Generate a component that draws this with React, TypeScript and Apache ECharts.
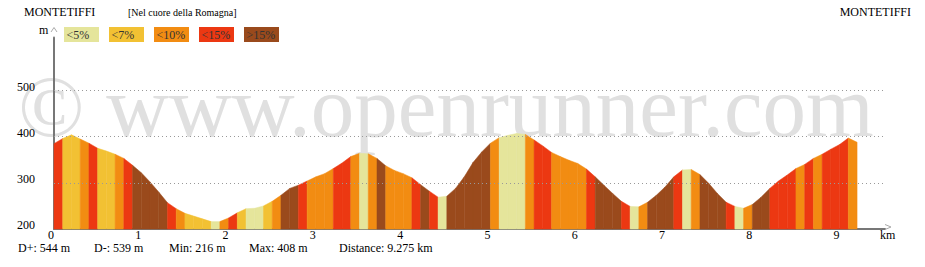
import React, { useEffect, useRef } from 'react';
import * as echarts from 'echarts';

// ---- data ----
const kmStep = 0.1;
const elevations = [
  385, 396, 404, 395, 386, 375, 369, 362, 353, 338,
  322, 302, 280, 257, 244, 234, 228, 222, 216, 216,
  224, 235, 244, 245, 250, 260, 273, 288, 295, 304,
  313, 320, 331, 343, 357, 364, 363, 353, 337, 327,
  320, 311, 296, 282, 269, 271, 288, 313, 344, 367,
  386, 398, 403, 407, 405, 393, 380, 366, 357, 349,
  342, 330, 313, 295, 277, 260, 249, 248, 258, 273,
  291, 313, 328, 329, 318, 299, 277, 258, 249, 245,
  253, 269, 288, 304, 317, 331, 340, 353, 362, 373,
  383, 397, 388,
];
// slope class of each 0.1 km segment: 0 <5%, 1 <7%, 2 <10%, 3 <15%, 4 >15%
const slopeClasses = [
  3, 1, 1, 2, 3, 1, 1, 2, 3, 4,
  4, 4, 4, 3, 2, 1, 1, 1, 0, 2,
  3, 1, 0, 0, 1, 2, 4, 4, 3, 2,
  2, 2, 3, 3, 2, 0, 2, 4, 2, 2,
  2, 3, 4, 3, 0, 4, 4, 4, 4, 4,
  2, 0, 0, 0, 2, 3, 3, 2, 2, 2,
  2, 3, 4, 4, 4, 3, 0, 2, 4, 4,
  4, 3, 0, 2, 4, 4, 4, 3, 0, 2,
  4, 4, 3, 3, 3, 2, 3, 2, 3, 3,
  3, 2,
];
const classLabels = ['<5%', '<7%', '<10%', '<15%', '>15%'];
const classColors = ['#E5E59B', '#F2C133', '#F28C12', '#EC3812', '#9A4A1C'];
const yTickValues = [200, 300, 400, 500];
const gridLineValues = [300, 400, 500];
const xTickLabels = ['0', '1', '2', '3', '4', '5', '6', '7', '8', '9'];
const startName = 'MONTETIFFI';
const endName = 'MONTETIFFI';
const subtitle = '[Nel cuore della Romagna]';
const stats = ['D+: 544 m', 'D-: 539 m', 'Min: 216 m', 'Max: 408 m', 'Distance: 9.275 km'];
const statsX = [18, 94, 169, 249, 339];
const watermark = '\u00A9 www.openrunner.com';

const FONT = '"Liberation Serif", "Times New Roman", serif';

export default function App() {
  const ref = useRef<HTMLDivElement>(null);

  useEffect(() => {
    document.body.style.margin = '0';
    if (!ref.current) return;
    const chart = echarts.init(ref.current, undefined, { renderer: 'svg' });

    const segments = slopeClasses.map((c, i) => [
      i * kmStep,
      (i + 1) * kmStep,
      elevations[i],
      elevations[i + 1],
      c,
    ]);

    const graphics: any[] = [
      {
        type: 'text',
        z: 0,
        x: 446,
        y: 106,
        style: {
          text: watermark,
          font: `87px ${FONT}`,
          fill: '#e0e0e0',
          align: 'center',
          verticalAlign: 'middle',
        },
      },
      {
        type: 'text', z: 10, x: 24, y: 17.5,
        style: { text: startName, font: `12px ${FONT}`, fill: '#000', align: 'left', verticalAlign: 'bottom' },
      },
      {
        type: 'text', z: 10, x: 128, y: 17.5,
        style: { text: subtitle, font: `10px ${FONT}`, fill: '#000', align: 'left', verticalAlign: 'bottom' },
      },
      {
        type: 'text', z: 10, x: 911, y: 17.5,
        style: { text: endName, font: `12px ${FONT}`, fill: '#000', align: 'right', verticalAlign: 'bottom' },
      },
      {
        type: 'text', z: 10, x: 39, y: 36,
        style: { text: 'm', font: `12px ${FONT}`, fill: '#000', align: 'left', verticalAlign: 'bottom' },
      },
      {
        type: 'polyline', z: 10,
        shape: { points: [[51, 32], [54, 27.5], [57, 32]] },
        style: { stroke: '#aaa', lineWidth: 1, fill: 'none' },
      },
      {
        type: 'polyline', z: 10,
        shape: { points: [[885, 224.5], [891, 227], [885, 229.5]] },
        style: { stroke: '#aaa', lineWidth: 1, fill: 'none' },
      },
      {
        type: 'text', z: 10, x: 880, y: 241,
        style: { text: 'km', font: `12px ${FONT}`, fill: '#000', align: 'left', verticalAlign: 'bottom' },
      },
    ];

    classLabels.forEach((label, i) => {
      const x = 64 + i * 45;
      graphics.push({
        type: 'rect', z: 10,
        shape: { x, y: 27, width: 35, height: 15 },
        style: { fill: classColors[i] },
      });
      graphics.push({
        type: 'text', z: 11, x: x + 2.5, y: 34.5,
        style: { text: label, font: `12px ${FONT}`, fill: '#333', align: 'left', verticalAlign: 'middle' },
      });
    });

    stats.forEach((s, i) => {
      graphics.push({
        type: 'text', z: 10, x: statsX[i], y: 254,
        style: { text: s, font: `12px ${FONT}`, fill: '#000', align: 'left', verticalAlign: 'bottom' },
      });
    });

    chart.setOption({
      animation: false,
      backgroundColor: '#fff',
      grid: { left: 54, right: 40, top: 37.5, bottom: 38 },
      xAxis: {
        type: 'value',
        min: 0,
        max: 9.52,
        interval: 1,
        axisLine: { show: true, lineStyle: { color: '#777', width: 2 } },
        axisTick: { show: false },
        splitLine: { show: false },
        axisLabel: {
          color: '#000',
          fontFamily: FONT,
          fontSize: 12,
          margin: 1,
          lineHeight: 10,
          padding: [0, 6, 0, 0],
          showMaxLabel: false,
          formatter: (v: number) => (Number.isInteger(v) && xTickLabels[v] !== undefined ? xTickLabels[v] : ''),
        },
      },
      yAxis: {
        type: 'value',
        min: 200,
        max: 615,
        interval: 100,
        axisLine: { show: true, lineStyle: { color: '#777', width: 2 } },
        axisTick: { show: false },
        splitLine: { show: false },
        axisLabel: {
          color: '#000',
          fontFamily: FONT,
          fontSize: 12,
          margin: 19,
          verticalAlign: 'bottom',
          lineHeight: 8,
          showMaxLabel: false,
          formatter: (v: number) => (yTickValues.includes(v) ? String(v) : ''),
        },
      },
      graphic: graphics,
      series: [
        {
          type: 'line',
          z: 1,
          data: [],
          silent: true,
          markLine: {
            silent: true,
            symbol: 'none',
            label: { show: false },
            lineStyle: { color: '#999', type: [1, 3], width: 1 },
            data: gridLineValues.map((v) => ({ yAxis: v })),
          },
        },
        {
          type: 'custom',
          z: 2,
          silent: true,
          encode: { x: [0, 1], y: [2, 3] },
          data: segments,
          renderItem: (params: any, api: any) => {
            const x0 = api.value(0);
            const x1 = api.value(1);
            const e0 = api.value(2);
            const e1 = api.value(3);
            const c = classColors[api.value(4)];
            const p0 = api.coord([x0, e0]);
            const p1 = api.coord([x1, e1]);
            const b0 = api.coord([x0, 200]);
            const b1 = api.coord([x1, 200]);
            return {
              type: 'polygon',
              shape: { points: [b0, p0, p1, b1] },
              style: { fill: c, stroke: c, lineWidth: 0.5 },
            };
          },
        },
      ],
    });

    return () => {
      chart.dispose();
    };
  }, []);

  return <div ref={ref} style={{ width: 925, height: 267 }} />;
}
